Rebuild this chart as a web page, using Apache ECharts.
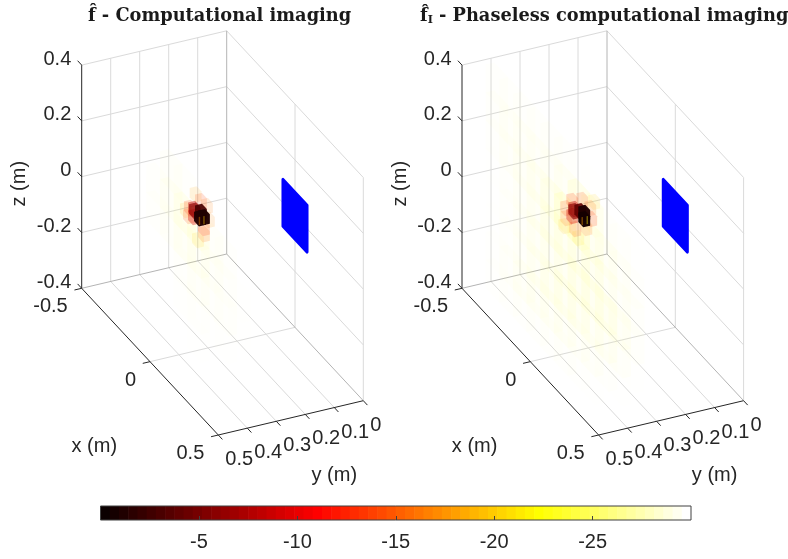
<!DOCTYPE html>
<html><head><meta charset="utf-8">
<style>html,body{margin:0;padding:0;background:#fff}#c{width:788px;height:559px}</style>
<script src="https://cdn.jsdelivr.net/npm/echarts@6/dist/echarts.min.js"></script>
</head><body><div id="c"></div>
<script>
// tick labels
const xTicks = [-0.5, 0, 0.5];
const yTicks = [0.5, 0.4, 0.3, 0.2, 0.1, 0];
const zTicks = [0.4, 0.2, 0, -0.2, -0.4];
const colorbarTicks = [-5, -10, -15, -20, -25];
// aperture at y = 0
const apertureX = [-0.088, 0.088];
const apertureZ = [-0.084, 0.084];
// faint image haze, dB: rows z = .3 ... -.4, columns x = -.5 ... .5 on the sheet y = .38
const hazeX = [-0.5, -0.4, -0.3, -0.2, -0.1, 0, 0.1, 0.2, 0.3, 0.4, 0.5];
const hazeZ = [0.3, 0.2, 0.1, 0, -0.1, -0.2, -0.3, -0.4];
const hazeLeft = [
 [-30,-30,-30,-30,-30,-30,-30,-30,-30,-30,-30],
 [-30,-30,-30,-30,-27,-28,-30,-30,-30,-30,-30],
 [-30,-30,-30,-28,-26.5,-25,-25,-27,-28,-30,-30],
 [-30,-30,-30,-28,-27,-26,-26,-27,-28,-29,-30],
 [-30,-30,-30,-30,-29,-28,-27,-28,-28,-29,-30],
 [-30,-30,-30,-30,-30,-28.5,-28.5,-29,-29,-30,-30],
 [-30,-30,-30,-30,-30,-30,-29,-29.5,-30,-30,-30],
 [-30,-30,-30,-30,-30,-30,-30,-30,-30,-30,-30]];
const hazeRight = [
 [-28,-28,-28,-28,-28,-28,-29,-29,-30,-30,-30],
 [-27.5,-27,-27,-27,-27,-26,-24,-25,-28,-28,-29],
 [-28,-27,-26.5,-26,-25,-23,-23,-25,-26,-27,-28],
 [-29,-28,-27,-26,-25,-25,-25,-25,-26,-27,-27.5],
 [-29,-28,-27,-26,-26,-25.5,-25,-25,-25,-26,-27.5],
 [-29,-28,-27,-26,-25.5,-25.5,-25.5,-26,-26,-27,-29],
 [-28.5,-27.5,-26.5,-26.5,-26.5,-26.5,-27,-27,-28,-29,-30],
 [-28.5,-28,-28,-28,-28,-28,-28.5,-29,-30,-30,-30]];
// image blob voxels [x, y, z, dB], drawn back to front
const blobLeft = [
 [-0.01,0.33,-0.011,-20],[-0.098,0.33,0.05,-19],[-0.027,0.33,0.143,-18],[0.07,0.33,0.103,-17],
 [0.056,0.33,0.145,-16],[0.034,0.33,0.033,-15],[-0.076,0.33,0.04,-14],[0.012,0.33,0.14,-14],
 [-0.069,0.33,0.073,-13],[0.034,0.33,0.055,-13],[-0.039,0.33,0.056,-9],[-0.039,0.33,0.085,-8],
 [-0.032,0.33,0.082,-6],[0.012,0.33,0.101,-3],[0.034,0.33,0.094,-1],[0.005,0.33,0.075,-1]];
const blobRight = [
 [-0.01,0.33,-0.004,-21],[0.107,0.33,0.187,-20],[-0.112,0.33,-0.015,-19],[-0.098,0.33,0.021,-15],
 [0.078,0.33,0.15,-15],[0.049,0.33,0.063,-15],[-0.098,0.33,0.057,-14],[0.019,0.33,0.148,-14],
 [-0.032,0.33,0.017,-14],[-0.054,0.33,0.106,-13],[0.085,0.33,0.114,-13],[-0.054,0.33,0.052,-9],
 [-0.039,0.33,0.085,-8],[-0.039,0.33,0.077,-6],[0.005,0.33,0.1,-4],[0.034,0.33,0.109,-1],[0.034,0.33,0.087,-0.5]];
const streakLeft = [[0.001,0.33,0.063,-17],[0.034,0.33,0.083,-20]];
const streakRight = [[0.019,0.33,0.072,-18],[0.056,0.33,0.095,-22]];

const TICK = '#262626', GRID = '#dadada', EDGE = '#b4b4b4', AXIS = '#262626';
const FONT = '20px "Liberation Sans"';
const PANEL_LEFT = [81.7, 462];

function project(x, y, z) {
  return [(x + 0.5) * 136.6 + (0.5 - y) * 290,
          (x + 0.5) * 146.7 - (0.5 - y) * 68.6 - (z + 0.4) * 279];
}
function hot(dB) {
  const n = Math.min(63, Math.floor(-dB / 30 * 64)) + 1;
  const r = Math.min(1, n / 24), g = Math.min(1, Math.max(0, (n - 24) / 24)), b = Math.min(1, Math.max(0, (n - 48) / 16));
  return 'rgb(' + Math.round(r * 255) + ',' + Math.round(g * 255) + ',' + Math.round(b * 255) + ')';
}
function alphaOf(dB) {
  const pts = [[-30, 0], [-24, 0.1], [-16, 0.14], [-11, 0.2], [-8, 0.42], [-4, 0.9], [0, 1]];
  for (let i = 1; i < pts.length; i++) if (dB <= pts[i][0]) {
    const [a, p] = pts[i - 1], [b, q] = pts[i];
    return p + (q - p) * (dB - a) / (b - a);
  }
  return 1;
}
function hexPoints(api, x, y, z, s) {
  const [a, b, c] = s;
  const order = [[-1,-1,1],[1,-1,1],[1,-1,-1],[1,1,-1],[-1,1,-1],[-1,1,1]];
  return order.map(o => api.coord(project(x + o[0] * a, y + o[1] * b, z + o[2] * c)));
}
function voxelSeries(p, data, size, extra) {
  return {
    type: 'custom', coordinateSystem: 'cartesian2d', xAxisIndex: p, yAxisIndex: p, silent: true,
    data, clip: false, animation: false, z: 3,
    renderItem(params, api) {
      const dB = api.value(3);
      return { type: 'polygon', shape: { points: hexPoints(api, api.value(0), api.value(1), api.value(2), size) },
        style: { fill: hot(dB), opacity: extra ? extra(dB) : alphaOf(dB) } };
    }
  };
}
function lineSeries(p, data, color, width, z) {
  return {
    type: 'custom', coordinateSystem: 'cartesian2d', xAxisIndex: p, yAxisIndex: p, silent: true,
    data, clip: false, animation: false, z,
    renderItem(params, api) {
      const a = api.coord(project(api.value(0), api.value(1), api.value(2)));
      const b = api.coord(project(api.value(3), api.value(4), api.value(5)));
      return { type: 'line', shape: { x1: a[0], y1: a[1], x2: b[0], y2: b[1] }, style: { stroke: color, lineWidth: width, fill: null } };
    }
  };
}
function labelSeries(p, data) {
  // data: [x, y, z, dx, dy, text, align]
  return {
    type: 'custom', coordinateSystem: 'cartesian2d', xAxisIndex: p, yAxisIndex: p, silent: true,
    data: data.map((d, i) => ({ value: [d[0], d[1], d[2]], id: i })), clip: false, animation: false, z: 6,
    renderItem(params, api) {
      const d = data[params.dataIndex];
      const c = api.coord(project(d[0], d[1], d[2]));
      return { type: 'text', x: c[0] + d[3], y: c[1] + d[4], rotation: d[7] || 0,
        style: { text: d[5], font: FONT, fill: TICK, textAlign: d[6], textVerticalAlign: 'middle' } };
    }
  };
}
function fmt(v) { return String(v); }

function panelSeries(p, hazeMatrix, blob, streak) {
  const grid = [], edge = [], axis = [];
  yTicks.slice(1, -1).forEach(y => {
    grid.push([-0.5, y, -0.4, -0.5, y, 0.4]);
    grid.push([-0.5, y, -0.4, 0.5, y, -0.4]);
    axis.push([0.5, y, -0.4, 0.53, y, -0.4]);
  });
  grid.push([0, 0, -0.4, 0, 0, 0.4], [0, 0, -0.4, 0, 0.5, -0.4]);
  axis.push([0, 0.5, -0.4, 0, 0.525, -0.4]);
  zTicks.slice(1, -1).forEach(z => {
    grid.push([-0.5, 0.5, z, -0.5, 0, z], [-0.5, 0, z, 0.5, 0, z]);
    axis.push([-0.5, 0.5, z, -0.53, 0.5, z]);
  });
  grid.push([-0.5, 0.5, 0.4, -0.5, 0, 0.4], [-0.5, 0, 0.4, 0.5, 0, 0.4], [0.5, 0, -0.4, 0.5, 0, 0.4]);
  edge.push([-0.5, 0.5, -0.4, -0.5, 0, -0.4], [-0.5, 0, -0.4, 0.5, 0, -0.4], [-0.5, 0, -0.4, -0.5, 0, 0.4]);
  axis.push([-0.5, 0.5, -0.4, -0.5, 0.5, 0.4], [-0.5, 0.5, -0.4, 0.5, 0.5, -0.4], [0.5, 0.5, -0.4, 0.5, 0, -0.4]);
  axis.push([-0.5, 0.5, 0.4, -0.53, 0.5, 0.4], [-0.5, 0.5, -0.4, -0.53, 0.5, -0.4]);
  axis.push([-0.5, 0.5, -0.4, -0.5, 0.525, -0.4], [0.5, 0.5, -0.4, 0.5, 0.525, -0.4]);
  axis.push([0.5, 0.5, -0.4, 0.53, 0.5, -0.4], [0.5, 0, -0.4, 0.53, 0, -0.4]);

  const labels = [];
  zTicks.forEach(z => labels.push([-0.5, 0.5, z, -10.4, -6, fmt(z), 'right']));
  xTicks.forEach(x => labels.push([x, 0.5, -0.4, -14, 18.5, fmt(x), 'right']));
  yTicks.forEach(y => labels.push([0.5, y, -0.4, 7, 24.5, fmt(y), 'left']));
  labels.push([-0.5, 0.5, 0, -62, 7, 'z (m)', 'center', Math.PI / 2]);
  labels.push([0.5, 0.5, -0.4, -124, 11.5, 'x (m)', 'center']);
  labels.push([0.5, 0.5, -0.4, 116, 40.5, 'y (m)', 'center']);

  const haze = [];
  hazeMatrix.forEach((row, r) => row.forEach((dB, c) => { if (dB > -30) haze.push([hazeX[c], 0.38, hazeZ[r], dB]); }));

  const aperture = {
    type: 'custom', coordinateSystem: 'cartesian2d', xAxisIndex: p, yAxisIndex: p, silent: true,
    data: [[apertureX[0], apertureX[1], apertureZ[0], apertureZ[1]]], clip: false, animation: false, z: 4,
    renderItem(params, api) {
      const [x0, x1, z0, z1] = [api.value(0), api.value(1), api.value(2), api.value(3)];
      return { type: 'polygon', shape: { points: [[x0, z0], [x1, z0], [x1, z1], [x0, z1]].map(q => api.coord(project(q[0], 0, q[1]))) },
        style: { fill: '#0000ff', stroke: '#0000ff', lineWidth: 3, lineJoin: 'round' } };
    }
  };
  return [
    lineSeries(p, grid, GRID, 1, 1),
    lineSeries(p, edge, EDGE, 1, 1),
    voxelSeries(p, haze, [0.05, 0.015, 0.05], dB => 0.012 + (dB + 30) * 0.014),
    voxelSeries(p, blob, [0.018, 0.012, 0.017]),
    voxelSeries(p, streak, [0.001, 0.002, 0.014], () => 0.4),
    aperture,
    lineSeries(p, axis, AXIS, 1, 5),
    labelSeries(p, labels)
  ];
}

const cbLevels = Array.from({ length: 64 }, (_, i) => i);
const colorbar = {
  type: 'custom', coordinateSystem: 'cartesian2d', xAxisIndex: 2, yAxisIndex: 2, silent: true, animation: false,
  data: cbLevels.map(i => [-i * 30 / 64, -(i + 1) * 30 / 64]), z: 1, clip: false,
  renderItem(params, api) {
    const a = api.coord([api.value(0), 1]), b = api.coord([api.value(1), 0]);
    return { type: 'rect', shape: { x: a[0], y: a[1], width: b[0] - a[0] + 0.6, height: b[1] - a[1] },
      style: { fill: hot((api.value(0) + api.value(1)) / 2) } };
  }
};
const colorbarFrame = {
  type: 'custom', coordinateSystem: 'cartesian2d', xAxisIndex: 2, yAxisIndex: 2, silent: true, animation: false,
  data: [[0, -30]], z: 5, clip: false,
  renderItem(params, api) {
    const a = api.coord([api.value(0), 1]), b = api.coord([api.value(1), 0]);
    return { type: 'rect', shape: { x: a[0], y: a[1], width: b[0] - a[0], height: b[1] - a[1] },
      style: { fill: null, stroke: '#404040', lineWidth: 1 } };
  }
};

const hiddenAxis = (gridIndex, min, max, inverse) => ({ type: 'value', gridIndex, min, max, inverse, show: false, splitLine: { show: false } });
const titleRich = {
  m: { fontFamily: 'DejaVu Serif', fontWeight: 'bold', fontSize: 17.8, color: '#1a1a1a' },
  sub: { fontFamily: 'DejaVu Serif', fontWeight: 'bold', fontSize: 11, color: '#1a1a1a', verticalAlign: 'bottom', padding: [8, 0, 0, 0] }
};
const chart = echarts.init(document.getElementById('c'), null, { renderer: 'canvas' });
chart.setOption({
  animation: false, backgroundColor: '#fff',
  title: [
    { text: '{m|f\u0302 - Computational imaging}', left: 88, top: 7, padding: 0, textStyle: { rich: titleRich } },
    { text: '{m|f\u0302}{sub|I}{m| - Phaseless computational imaging}', left: 420, top: 7, padding: 0, textStyle: { rich: titleRich } }
  ],
  grid: [
    { left: PANEL_LEFT[0], top: 32.3, width: 281.6, height: 402.7 },
    { left: PANEL_LEFT[1], top: 32.3, width: 281.6, height: 402.7 },
    { left: 100.5, top: 506, width: 590.5, height: 14 }
  ],
  xAxis: [
    hiddenAxis(0, 0, 281.6, false), hiddenAxis(1, 0, 281.6, false),
    { type: 'value', gridIndex: 2, min: -30, max: 0, interval: 5, inverse: true, z: 6,
      axisLine: { show: false }, splitLine: { show: false },
      axisTick: { inside: true, length: 4, lineStyle: { color: '#404040', width: 1 } },
      axisLabel: { show: true, showMinLabel: false, showMaxLabel: false, margin: 12, fontFamily: 'Liberation Sans', fontSize: 20, color: TICK } }
  ],
  yAxis: [
    hiddenAxis(0, -256, 146.7, true), hiddenAxis(1, -256, 146.7, true), hiddenAxis(2, 0, 1, false)
  ],
  series: [
    ...panelSeries(0, hazeLeft, blobLeft, streakLeft),
    ...panelSeries(1, hazeRight, blobRight, streakRight),
    colorbar, colorbarFrame
  ]
});
</script></body></html>
